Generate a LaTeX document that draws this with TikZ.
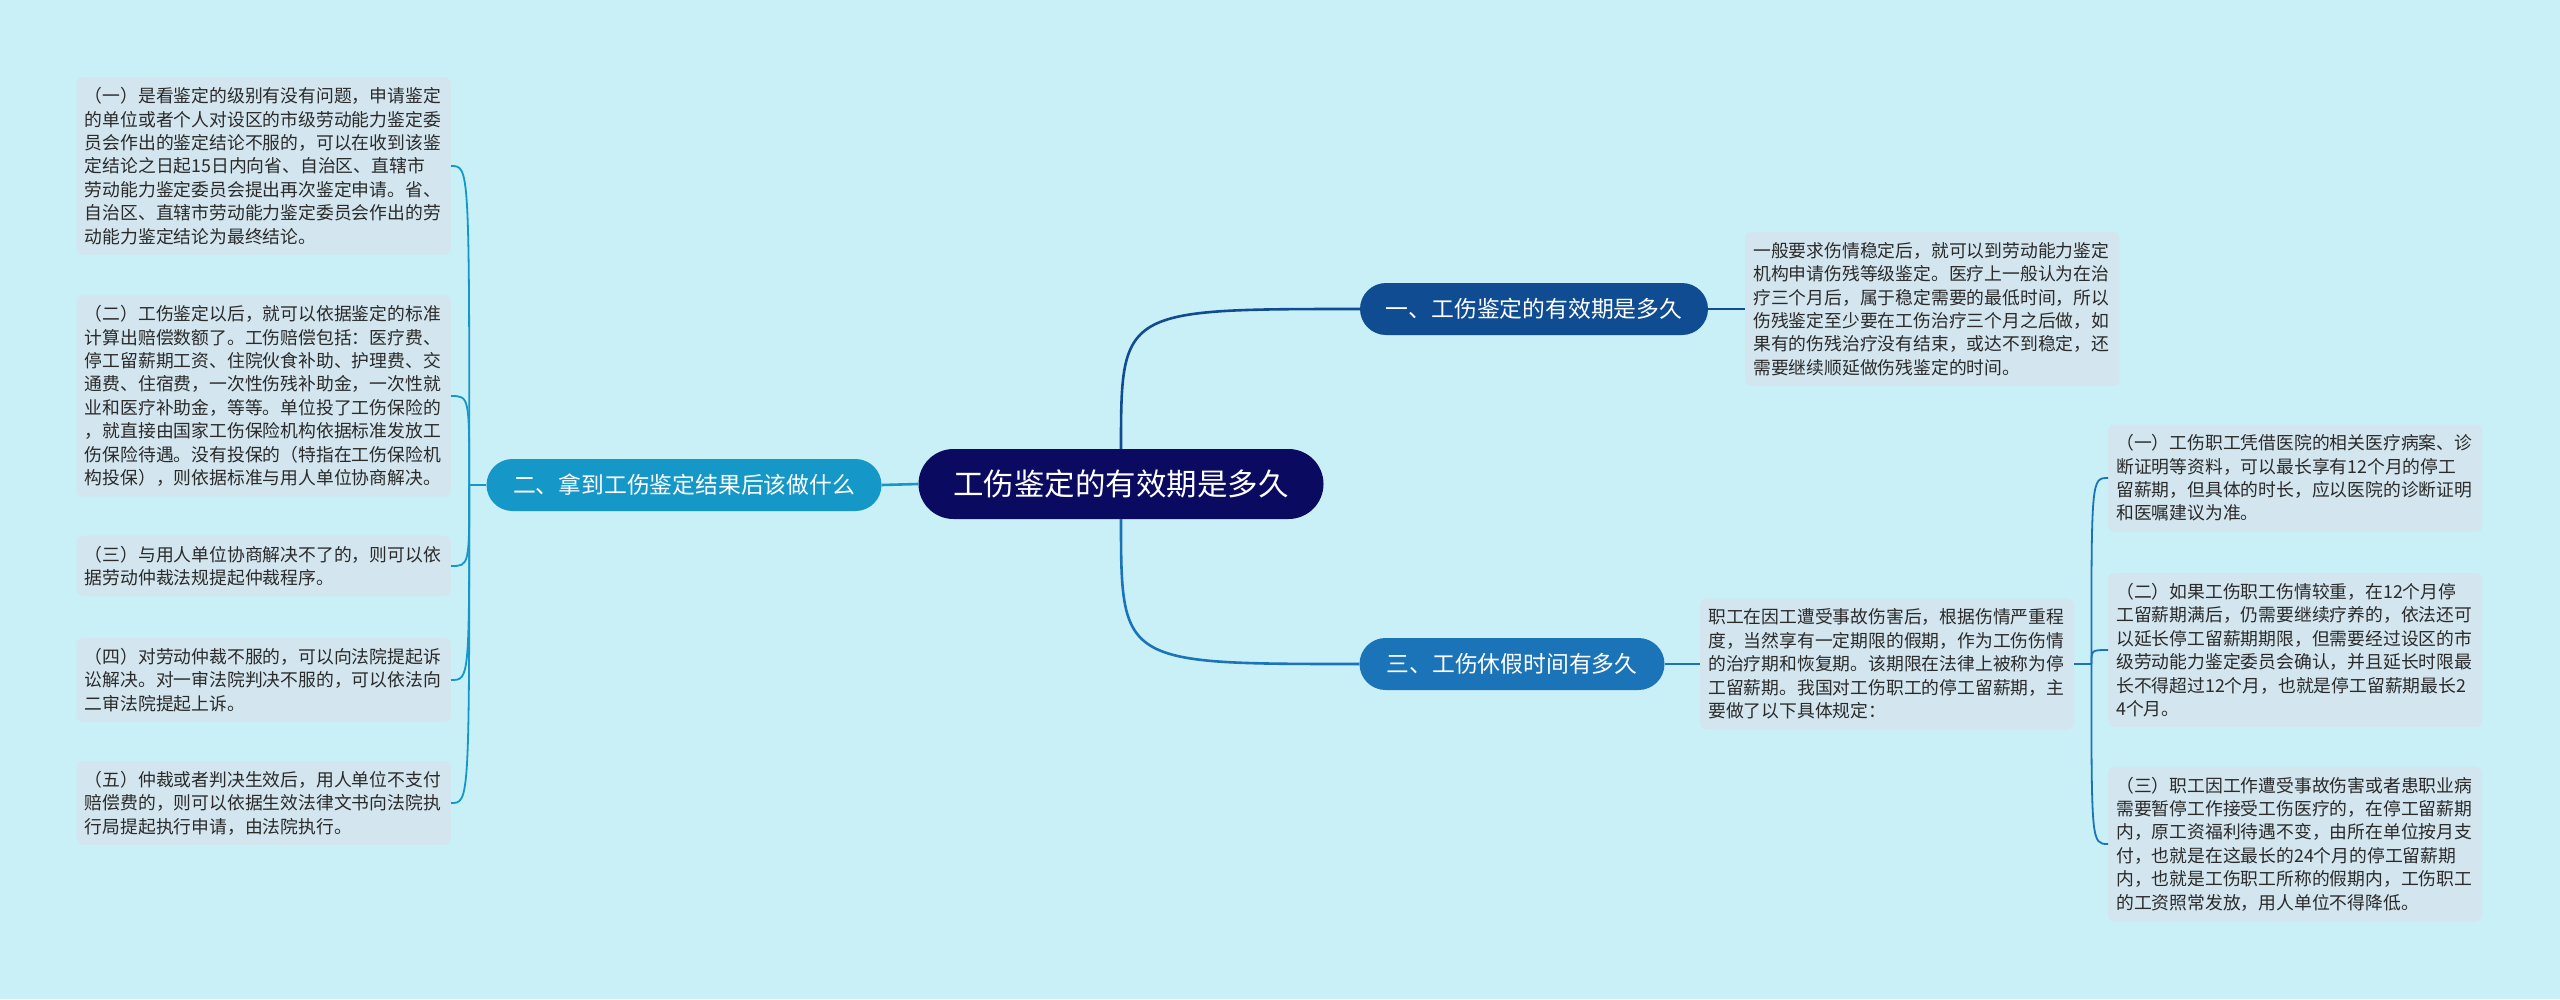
\documentclass[tikz,border=0pt]{standalone}
\usepackage{fontspec}
\newfontfamily\cjk{Noto Sans CJK SC}
\usepackage{xcolor}
\definecolor{bgc}{HTML}{C9EFF7}
\definecolor{rootc}{HTML}{0B0A61}
\definecolor{onec}{HTML}{0F4C92}
\definecolor{twoc}{HTML}{1597C8}
\definecolor{threec}{HTML}{1C74B8}
\definecolor{boxc}{HTML}{D3E5EE}
\definecolor{txtc}{HTML}{2A2A2A}
\usepackage{tikz}
\usetikzlibrary{positioning,calc}
\tikzset{
  root/.style={fill=rootc,text=white,rounded corners=35pt,minimum width=405pt,minimum height=70pt,inner sep=0pt,font=\cjk\fontsize{30.5}{34}\selectfont},
  topic/.style={text=white,rounded corners=26pt,minimum height=52pt,inner sep=0pt,font=\cjk\fontsize{22.8}{26}\selectfont},
  leaf/.style={fill=boxc,rounded corners=6pt,text width=358pt,inner xsep=8pt,inner ysep=10pt,align=left,text=txtc,font=\cjk\fontsize{17.8}{23.4}\selectfont},
  lk/.style={line width=2.6pt},
  br/.style={line width=1.8pt},
}

\begin{document}
\begin{tikzpicture}[x=1pt,y=-1pt]
  \fill[bgc] (0,0) rectangle (2560,999);
  \useasboundingbox (0,0) rectangle (2560,999);
  \node[root] (cen) at (1121,484) {工伤鉴定的有效期是多久};
  \node[topic,fill=onec,minimum width=348pt] (b1) at (1534,309) {一、工伤鉴定的有效期是多久};
  \node[topic,fill=twoc,minimum width=395pt] (b2) at (684,485) {二、拿到工伤鉴定结果后该做什么};
  \node[topic,fill=threec,minimum width=305pt] (b3) at (1512,664) {三、工伤休假时间有多久};
  \node[leaf,anchor=east] (l1) at (451,166) {（一）是看鉴定的级别有没有问题，申请鉴定\\的单位或者个人对设区的市级劳动能力鉴定委\\员会作出的鉴定结论不服的，可以在收到该鉴\\定结论之日起15日内向省、自治区、直辖市\\劳动能力鉴定委员会提出再次鉴定申请。省、\\自治区、直辖市劳动能力鉴定委员会作出的劳\\动能力鉴定结论为最终结论。};
  \node[leaf,anchor=east] (l2) at (451,396) {（二）工伤鉴定以后，就可以依据鉴定的标准\\计算出赔偿数额了。工伤赔偿包括：医疗费、\\停工留薪期工资、住院伙食补助、护理费、交\\通费、住宿费，一次性伤残补助金，一次性就\\业和医疗补助金，等等。单位投了工伤保险的\\，就直接由国家工伤保险机构依据标准发放工\\伤保险待遇。没有投保的（特指在工伤保险机\\构投保），则依据标准与用人单位协商解决。};
  \node[leaf,anchor=east] (l3) at (451,566) {（三）与用人单位协商解决不了的，则可以依\\据劳动仲裁法规提起仲裁程序。};
  \node[leaf,anchor=east] (l4) at (451,680) {（四）对劳动仲裁不服的，可以向法院提起诉\\讼解决。对一审法院判决不服的，可以依法向\\二审法院提起上诉。};
  \node[leaf,anchor=east] (l5) at (451,803) {（五）仲裁或者判决生效后，用人单位不支付\\赔偿费的，则可以依据生效法律文书向法院执\\行局提起执行申请，由法院执行。};
  \node[leaf,anchor=west] (r0) at (1745,309) {一般要求伤情稳定后，就可以到劳动能力鉴定\\机构申请伤残等级鉴定。医疗上一般认为在治\\疗三个月后，属于稳定需要的最低时间，所以\\伤残鉴定至少要在工伤治疗三个月之后做，如\\果有的伤残治疗没有结束，或达不到稳定，还\\需要继续顺延做伤残鉴定的时间。};
  \node[leaf,anchor=west] (m3) at (1700,664) {职工在因工遭受事故伤害后，根据伤情严重程\\度，当然享有一定期限的假期，作为工伤伤情\\的治疗期和恢复期。该期限在法律上被称为停\\工留薪期。我国对工伤职工的停工留薪期，主\\要做了以下具体规定：};
  \node[leaf,anchor=west] (r1) at (2108,478) {（一）工伤职工凭借医院的相关医疗病案、诊\\断证明等资料，可以最长享有12个月的停工\\留薪期，但具体的时长，应以医院的诊断证明\\和医嘱建议为准。};
  \node[leaf,anchor=west] (r2) at (2108,650) {（二）如果工伤职工伤情较重，在12个月停\\工留薪期满后，仍需要继续疗养的，依法还可\\以延长停工留薪期期限，但需要经过设区的市\\级劳动能力鉴定委员会确认，并且延长时限最\\长不得超过12个月，也就是停工留薪期最长2\\4个月。};
  \node[leaf,anchor=west] (r3) at (2108,844) {（三）职工因工作遭受事故伤害或者患职业病\\需要暂停工作接受工伤医疗的，在停工留薪期\\内，原工资福利待遇不变，由所在单位按月支\\付，也就是在这最长的24个月的停工留薪期\\内，也就是工伤职工所称的假期内，工伤职工\\的工资照常发放，用人单位不得降低。};
  \draw[lk,draw=onec] (cen.north) .. controls (cen.north |- b1.west) .. (b1.west);
  \draw[lk,draw=threec] (cen.south) .. controls (cen.south |- b3.west) .. (b3.west);
  \draw[lk,draw=twoc] (cen.west) -- (b2.east);
  \draw[lk,draw=onec] (b1.east) -- (r0.west);
  \draw[lk,draw=threec] (b3.east) -- (m3.west);
  \draw[br,draw=twoc] (b2.west) -- ++(-17,0) coordinate (lj);
  \foreach \n in {1,...,5} \draw[br,draw=twoc] (lj) .. controls (lj |- l\n.east) .. (l\n.east);
  \draw[br,draw=threec] (m3.east) -- ++(17,0) coordinate (rj);
  \foreach \n in {1,2,3} \draw[br,draw=threec] (rj) .. controls (rj |- r\n.west) .. (r\n.west);
\end{tikzpicture}
\end{document}
